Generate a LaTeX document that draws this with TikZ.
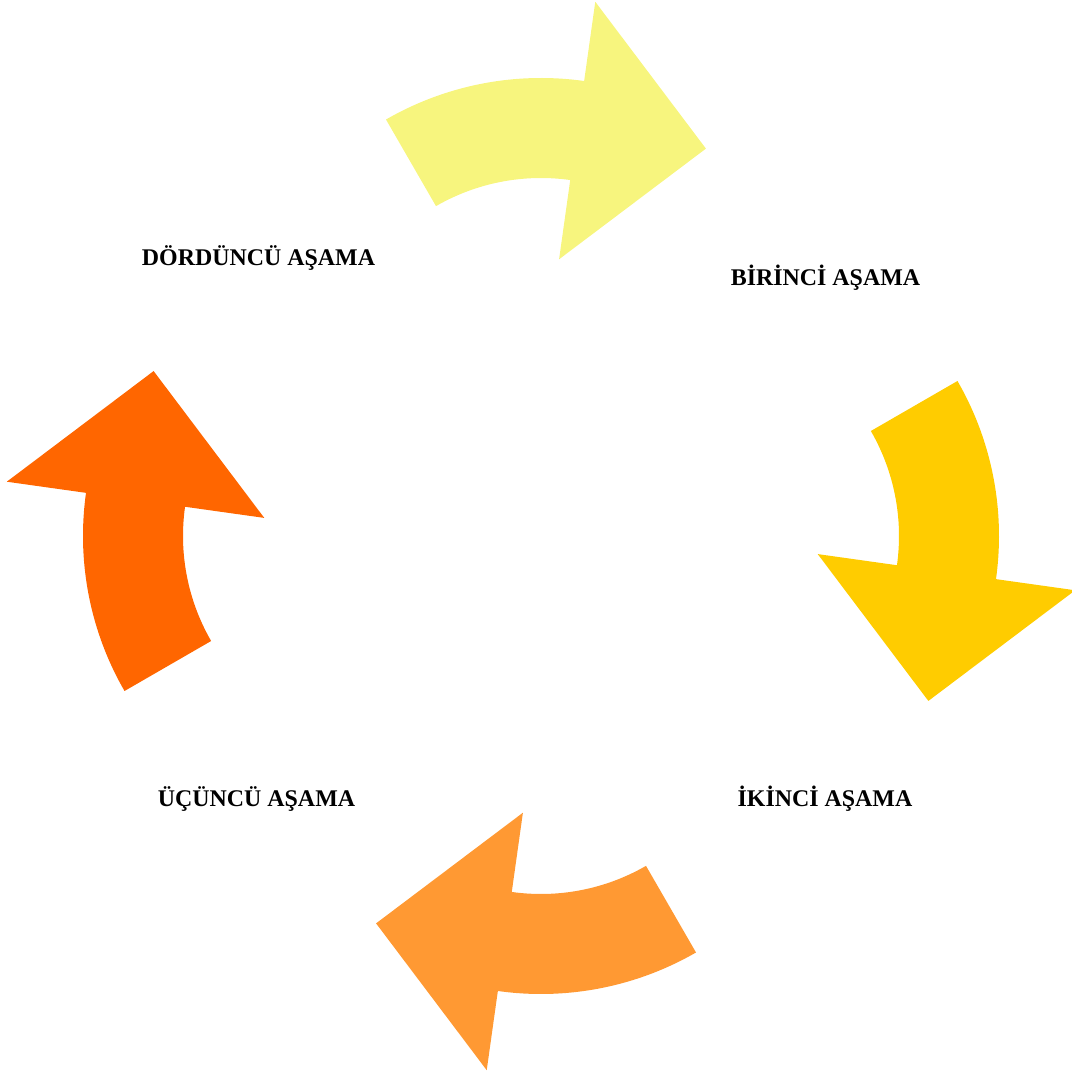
\documentclass[tikz,border=0pt]{standalone}
\usepackage{fontspec}
\setmainfont{Liberation Serif}
\usetikzlibrary{calc}
\definecolor{cyA}{HTML}{F7F57E}
\definecolor{cyB}{HTML}{FFCC00}
\definecolor{cyC}{HTML}{FF9933}
\definecolor{cyD}{HTML}{FF6600}
\begin{document}
\begin{tikzpicture}[x=0.01cm,y=0.01cm,
  lbl/.style={font=\fontsize{6.8}{8}\selectfont\bfseries, anchor=base, inner sep=0pt}]
\useasboundingbox (0,0) rectangle (1072,1072);
\coordinate (ctop) at (541,684);
\coordinate (cright) at (689,536);
\coordinate (cbot) at (541,388);
\coordinate (cleft) at (393,536);
\foreach \c/\t/\col in {ctop/0/cyA, cright/-90/cyB, cbot/-180/cyC, cleft/-270/cyD}{
  \fill[\col] ($(\c)+(120+\t:310)$) arc[start angle=120+\t, end angle=82+\t, radius=310]
    -- ($(\c)+(82+\t:390)$)
    -- ($(\c)+(82+\t:260)+(-8+\t:130)$)
    -- ($(\c)+(82+\t:130)$)
    -- ($(\c)+(82+\t:210)$) arc[start angle=82+\t, end angle=120+\t, radius=210]
    -- cycle;
}
\node[lbl] (l1) at (825.5,786) {BİRİNCİ AŞAMA};
\node[lbl] (l2) at (825,265) {İKİNCİ AŞAMA};
\node[lbl] (l3) at (256.5,265) {ÜÇÜNCÜ AŞAMA};
\node[lbl] (l4) at (258.5,806) {DÖRDÜNCÜ AŞAMA};
\end{tikzpicture}
\end{document}
